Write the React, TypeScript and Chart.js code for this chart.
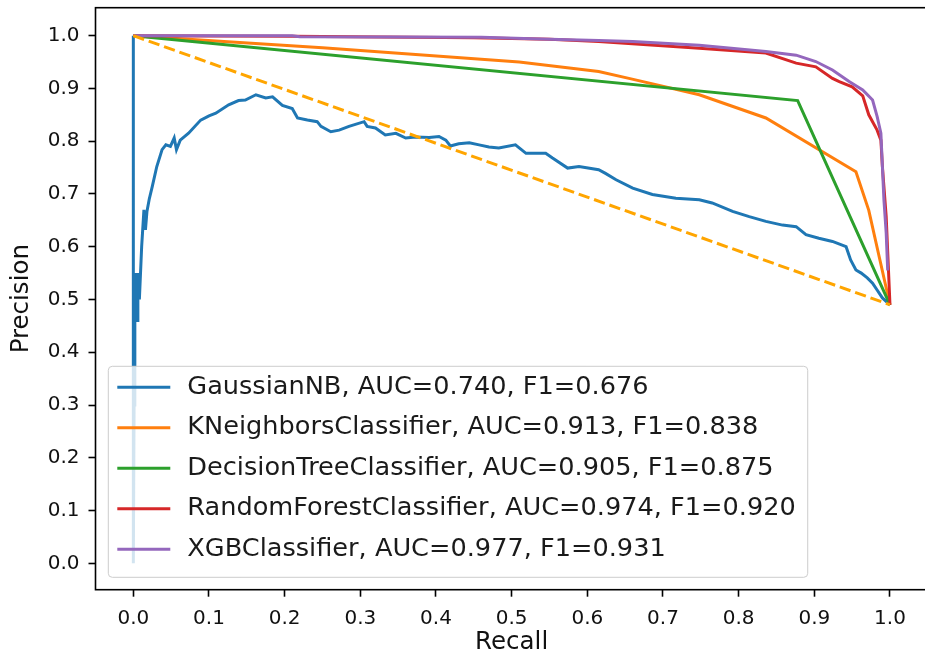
import React, { useEffect, useRef } from "react";
import Chart from "chart.js/auto";

const FONT = '"DejaVu Sans", "Liberation Sans", sans-serif';

const modelLabels = [
  "GaussianNB, AUC=0.740, F1=0.676",
  "KNeighborsClassifier, AUC=0.913, F1=0.838",
  "DecisionTreeClassifier, AUC=0.905, F1=0.875",
  "RandomForestClassifier, AUC=0.974, F1=0.920",
  "XGBClassifier, AUC=0.977, F1=0.931",
];
const modelColors = ["#1f77b4", "#ff7f0e", "#2ca02c", "#d62728", "#9467bd"];

const xTicks = [0, 0.1, 0.2, 0.3, 0.4, 0.5, 0.6, 0.7, 0.8, 0.9, 1.0];
const yTicks = [0, 0.1, 0.2, 0.3, 0.4, 0.5, 0.6, 0.7, 0.8, 0.9, 1.0];

// GaussianNB
const gnbRecall = [
  0, 0, 0.001, 0.002, 0.003, 0.005, 0.006, 0.008, 0.011, 0.014, 0.016, 0.018, 0.021, 0.025,
  0.031, 0.038, 0.043, 0.049, 0.054, 0.057, 0.062, 0.073, 0.089, 0.1, 0.109, 0.126, 0.139,
  0.148, 0.162, 0.175, 0.184, 0.197, 0.21, 0.217, 0.23, 0.243, 0.248, 0.261, 0.272, 0.285,
  0.305, 0.309, 0.32, 0.333, 0.347, 0.36, 0.373, 0.391, 0.404, 0.413, 0.419, 0.43, 0.444,
  0.457, 0.47, 0.483, 0.505, 0.519, 0.545, 0.554, 0.574, 0.589, 0.615, 0.624, 0.638, 0.66,
  0.686, 0.717, 0.748, 0.765, 0.792, 0.814, 0.836, 0.858, 0.876, 0.889, 0.906, 0.924, 0.942,
  0.948, 0.955, 0.962, 0.97, 0.977, 0.983, 0.99, 1.0,
];
const gnbPrecision = [
  1.0, 0.0, 0.3, 0.52, 0.55, 0.46, 0.55, 0.5, 0.6, 0.67, 0.632, 0.667, 0.69, 0.714,
  0.752, 0.784, 0.793, 0.79, 0.806, 0.784, 0.802, 0.815, 0.84, 0.848, 0.853, 0.869, 0.877,
  0.878, 0.888, 0.882, 0.884, 0.868, 0.862, 0.844, 0.84, 0.837, 0.828, 0.818, 0.821, 0.828,
  0.837, 0.828, 0.825, 0.812, 0.815, 0.806, 0.808, 0.807, 0.809, 0.802, 0.791, 0.795, 0.797,
  0.793, 0.789, 0.787, 0.793, 0.777, 0.777, 0.768, 0.749, 0.752, 0.746, 0.739, 0.727, 0.711,
  0.699, 0.692, 0.689, 0.683, 0.667, 0.657, 0.648, 0.641, 0.638, 0.623, 0.616, 0.61, 0.6,
  0.575, 0.556, 0.55, 0.541, 0.531, 0.518, 0.503, 0.49,
];

// KNeighborsClassifier
const knnRecall = [0, 0.25, 0.51, 0.615, 0.655, 0.748, 0.836, 0.955, 0.972, 1.0];
const knnPrecision = [1.0, 0.977, 0.95, 0.932, 0.919, 0.888, 0.844, 0.742, 0.669, 0.49];

// DecisionTreeClassifier
const dtRecall = [0, 0.878, 1.0];
const dtPrecision = [1.0, 0.877, 0.49];

// RandomForestClassifier
const rfRecall = [
  0, 0.21, 0.45, 0.55, 0.615, 0.748, 0.836, 0.876, 0.902, 0.924, 0.933, 0.95, 0.964, 0.972,
  0.983, 0.988, 0.99, 0.995, 1.0,
];
const rfPrecision = [
  1.0, 0.999, 0.996, 0.993, 0.989, 0.976, 0.967, 0.948, 0.941, 0.919, 0.913, 0.903, 0.886,
  0.85, 0.821, 0.802, 0.752, 0.657, 0.49,
];

// XGBClassifier
const xgbRecall = [
  0, 0.21, 0.22, 0.46, 0.55, 0.615, 0.66, 0.748, 0.836, 0.876, 0.902, 0.924, 0.946, 0.964,
  0.977, 0.983, 0.988, 0.99, 0.992, 0.995, 0.997,
];
const xgbPrecision = [
  1.0, 1.0, 0.998, 0.997, 0.993, 0.991, 0.989, 0.982, 0.97, 0.963, 0.951, 0.935, 0.913, 0.897,
  0.878, 0.847, 0.815, 0.752, 0.689, 0.626, 0.555,
];

// dashed reference line
const refRecall = [0, 1.0];
const refPrecision = [1.0, 0.49];

const toPoints = (xs: number[], ys: number[]) => xs.map((x, i) => ({ x, y: ys[i] }));

export default function App() {
  const ref = useRef<HTMLCanvasElement>(null);

  useEffect(() => {
    const canvas = ref.current;
    if (!canvas) return;

    const framePlugin = {
      id: "frame",
      afterDatasetsDraw(chart: any) {
        const { ctx, chartArea: a } = chart;
        ctx.save();
        ctx.strokeStyle = "#000";
        ctx.lineWidth = 1.6;
        ctx.strokeRect(a.left, a.top, a.right - a.left, a.bottom - a.top);
        ctx.restore();
      },
    };

    const legendPlugin = {
      id: "innerLegend",
      afterDraw(chart: any) {
        const { ctx, chartArea: a } = chart;
        ctx.save();
        ctx.font = `25.6px ${FONT}`;
        const maxW = Math.max(...modelLabels.map((t) => ctx.measureText(t).width));
        const left = a.left + 12.8;
        const bottom = a.bottom - 12.4;
        const h = 211;
        const top = bottom - h;
        const w = 79 + maxW + 12;
        ctx.beginPath();
        ctx.roundRect(left, top, w, h, 4);
        ctx.fillStyle = "rgba(255,255,255,0.8)";
        ctx.fill();
        ctx.strokeStyle = "#cccccc";
        ctx.lineWidth = 1;
        ctx.stroke();
        ctx.textBaseline = "middle";
        ctx.textAlign = "left";
        modelLabels.forEach((t, i) => {
          const cy = top + 21 + i * 40.5;
          ctx.beginPath();
          ctx.moveTo(left + 9, cy);
          ctx.lineTo(left + 62, cy);
          ctx.strokeStyle = modelColors[i];
          ctx.lineWidth = 3;
          ctx.stroke();
          ctx.fillStyle = "#1a1a1a";
          ctx.fillText(t, left + 79, cy);
        });
        ctx.restore();
      },
    };

    const series = [
      [gnbRecall, gnbPrecision],
      [knnRecall, knnPrecision],
      [dtRecall, dtPrecision],
      [rfRecall, rfPrecision],
      [xgbRecall, xgbPrecision],
    ];

    const datasets: any[] = series.map(([xs, ys], i) => ({
      label: modelLabels[i],
      data: toPoints(xs, ys),
      borderColor: modelColors[i],
      backgroundColor: modelColors[i],
      borderWidth: 3,
      pointRadius: 0,
      showLine: true,
      tension: 0,
      order: 6 - i,
    }));
    datasets.push({
      label: "",
      data: toPoints(refRecall, refPrecision),
      borderColor: "#ffa500",
      backgroundColor: "#ffa500",
      borderWidth: 3,
      borderDash: [11.4, 4.9],
      pointRadius: 0,
      showLine: true,
      order: 0,
    });

    const chart = new Chart(canvas, {
      type: "scatter",
      data: { datasets },
      options: {
        animation: false,
        responsive: false,
        devicePixelRatio: 1,
        layout: { padding: { top: 7.7, right: 2.2, bottom: 0, left: 0 } },
        plugins: {
          legend: { display: false },
          tooltip: { enabled: false },
        },
        scales: {
          x: {
            type: "linear",
            min: -0.05,
            max: 1.05,
            afterBuildTicks: (scale: any) => {
              scale.ticks = xTicks.map((v) => ({ value: v }));
            },
            afterFit: (scale: any) => {
              scale.height = 69.3;
              scale.paddingLeft = 0;
              scale.paddingRight = 0;
            },
            grid: {
              drawOnChartArea: false,
              drawTicks: true,
              tickLength: 7,
              tickColor: "#000",
              tickWidth: 1.6,
            },
            border: { display: false },
            ticks: {
              padding: 10,
              color: "#111",
              font: { family: FONT, size: 20 },
              maxRotation: 0,
              autoSkip: false,
              callback: (v: any) => Number(v).toFixed(1),
            },
            title: {
              display: true,
              text: "Recall",
              color: "#111",
              font: { family: FONT, size: 24.5 },
              padding: { top: 0, bottom: 1.5 },
            },
          },
          y: {
            type: "linear",
            min: -0.05,
            max: 1.053,
            afterBuildTicks: (scale: any) => {
              scale.ticks = yTicks.map((v) => ({ value: v }));
            },
            afterFit: (scale: any) => {
              scale.width = 95.5;
              scale.paddingTop = 0;
              scale.paddingBottom = 0;
            },
            grid: {
              drawOnChartArea: false,
              drawTicks: true,
              tickLength: 7,
              tickColor: "#000",
              tickWidth: 1.6,
            },
            border: { display: false },
            ticks: {
              padding: 9,
              color: "#111",
              font: { family: FONT, size: 20 },
              autoSkip: false,
              callback: (v: any) => Number(v).toFixed(1),
            },
            title: {
              display: true,
              text: "Precision",
              color: "#111",
              font: { family: FONT, size: 24.5 },
              padding: { top: 7, bottom: 0 },
            },
          },
        },
      },
      plugins: [framePlugin, legendPlugin],
    });

    return () => chart.destroy();
  }, []);

  return (
    <div
      style={{
        position: "absolute",
        left: 0,
        top: 0,
        width: 925,
        height: 659,
        overflow: "hidden",
        background: "#fff",
      }}
    >
      <canvas
        ref={ref}
        width={930}
        height={659}
        style={{ display: "block", width: 930, height: 659 }}
      />
    </div>
  );
}
